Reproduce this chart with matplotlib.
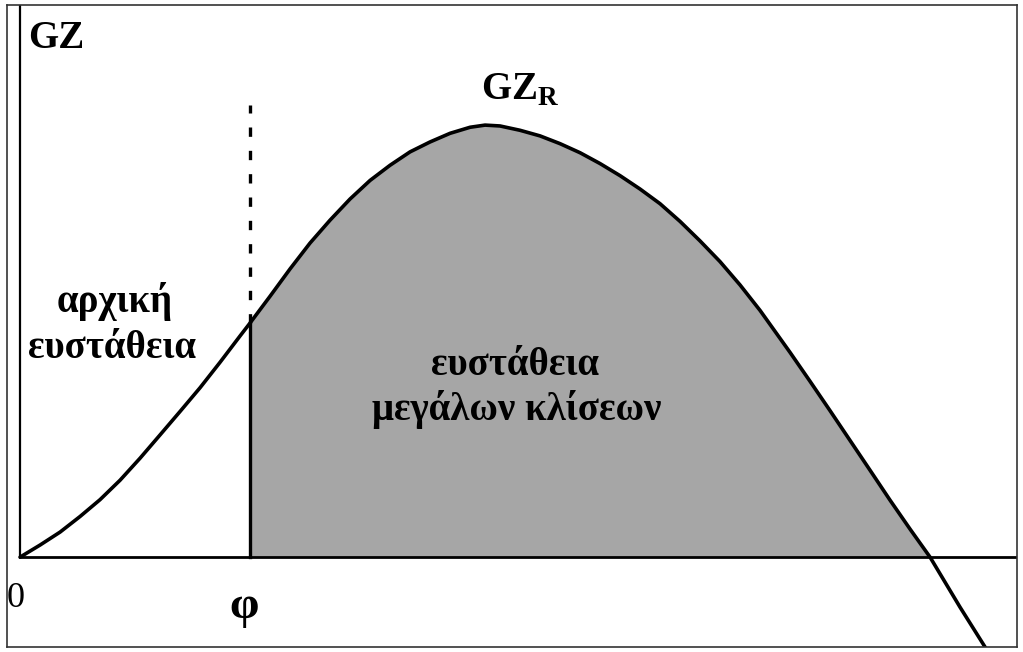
import matplotlib
matplotlib.use('Agg')
import matplotlib.pyplot as plt
import numpy as np

plt.rcParams['font.family'] = ['Liberation Serif', 'DejaVu Serif']
plt.rcParams['mathtext.fontset'] = 'custom'
plt.rcParams['mathtext.rm'] = 'Liberation Serif'
plt.rcParams['mathtext.bf'] = 'Liberation Serif:bold'

# καμπύλη GZ (γωνία σε μοίρες, GZ κανονικοποιημένο στο μέγιστο)
angle = [0, 1.98, 3.96, 5.93, 7.91, 9.89, 11.87, 13.85, 15.82, 17.80,
         19.78, 21.76, 22.75, 24.73, 26.70, 28.68, 30.66, 32.64, 34.62,
         36.59, 38.57, 40.55, 42.53, 44.51, 45.99, 47.47, 49.45, 51.43,
         53.41, 55.39, 57.36, 59.34, 61.32, 63.30, 65.28, 67.25, 69.23,
         71.21, 73.19, 76.15, 78.13, 80.11, 82.09, 84.07, 86.04, 88.02,
         90.00, 92.97, 96.43]
gz = [0, 0.028, 0.058, 0.094, 0.133, 0.178, 0.229, 0.283, 0.337, 0.392,
      0.451, 0.512, 0.542, 0.604, 0.667, 0.727, 0.780, 0.829, 0.872,
      0.907, 0.938, 0.961, 0.981, 0.995, 1.000, 0.998, 0.988, 0.975,
      0.957, 0.936, 0.911, 0.883, 0.852, 0.818, 0.777, 0.732, 0.684,
      0.630, 0.571, 0.474, 0.407, 0.339, 0.270, 0.201, 0.132, 0.065,
      0.0, -0.116, -0.245]
phi = 22.75      # γωνία όπου τελειώνει η αρχική ευστάθεια
gz_phi = 0.542
vanish = 90.0

angle = np.array(angle)
gz = np.array(gz)

fig = plt.figure(figsize=(10.23, 6.52), dpi=100)
ax = fig.add_axes([7 / 1023, 5 / 652, 1010 / 1023, 642 / 652])
ax.set_xlim(-1.29, 98.6)
ax.set_ylim(-0.208, 1.278)

# σκιασμένη περιοχή (μεγάλες κλίσεις)
m = (angle >= phi) & (angle <= vanish)
ax.fill_between(angle[m], 0, gz[m], color='#a6a6a6', lw=0, zorder=1)

# άξονες
ax.plot([0, 0], [0, 1.278], color='black', lw=1.6, zorder=2)
ax.plot([0, 98.6], [0, 0], color='black', lw=2.0, zorder=2)

# καμπύλη
ax.plot(angle, gz, color='black', lw=2.6, solid_joinstyle='round',
        solid_capstyle='round', zorder=3)

# κατακόρυφες γραμμές στη φ
ax.plot([phi, phi], [0, gz_phi], color='black', lw=2.4, zorder=3)
ax.plot([phi, phi], [gz_phi, 1.046], color='black', lw=2.4,
        linestyle=(0, (2.8, 4.2)), zorder=3)

# κείμενα
ax.text(0.79, 1.178, 'GZ', fontsize=28, fontweight='bold', ha='left', va='baseline')
ax.text(49.45, 1.058, r'$\mathbf{GZ}_{\mathbf{R}}$', fontsize=28, ha='center', va='baseline')
ax.text(9.4, 0.567, 'αρχική', fontsize=28, fontweight='bold', ha='center', va='baseline')
ax.text(9.1, 0.461, 'ευστάθεια', fontsize=28, fontweight='bold', ha='center', va='baseline')
ax.text(48.96, 0.421, 'ευστάθεια', fontsize=28, fontweight='bold', ha='center', va='baseline')
ax.text(49.15, 0.317, 'μεγάλων κλίσεων', fontsize=28, fontweight='bold', ha='center', va='baseline')
ax.text(-0.4, -0.116, '0', fontsize=26, ha='center', va='baseline')
ax.text(22.15, -0.141, 'φ', fontsize=34, fontweight='bold', ha='center', va='baseline')

ax.set_xticks([])
ax.set_yticks([])
for s in ax.spines.values():
    s.set_color('#333333')
    s.set_linewidth(1.2)
    s.set_zorder(5)

fig.savefig('out.png', dpi=100)
